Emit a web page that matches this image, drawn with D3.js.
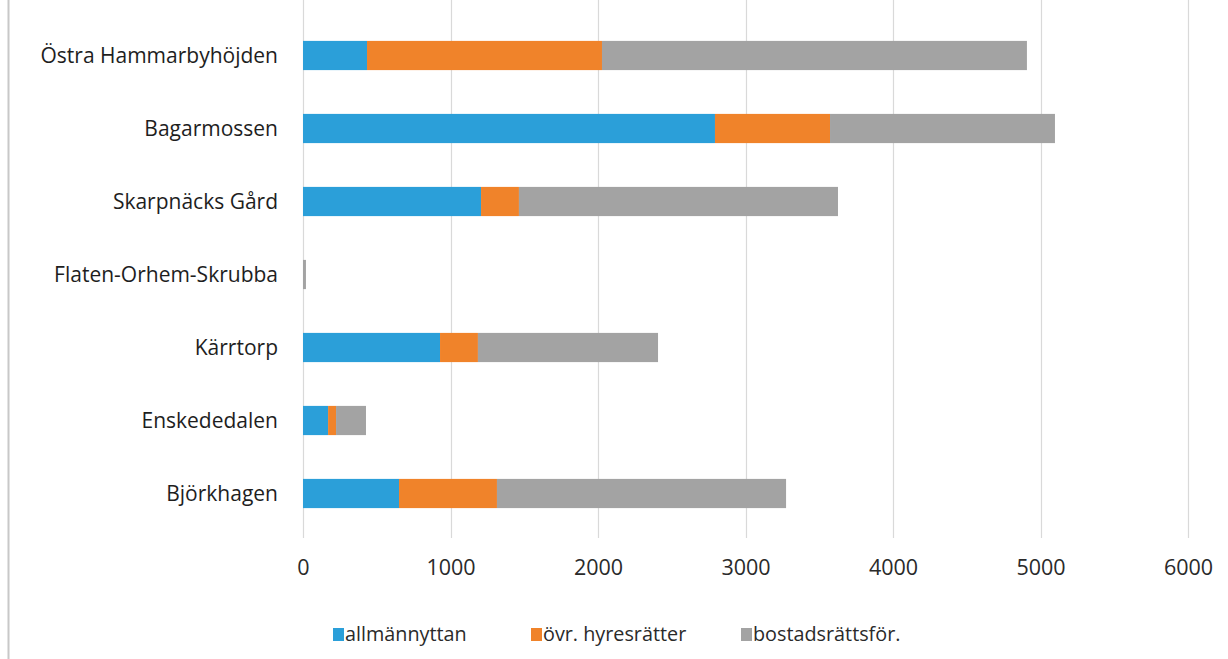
<!DOCTYPE html>
<html><head><meta charset="utf-8">
<script src="https://cdn.jsdelivr.net/npm/d3@7"></script>
<style>body{margin:0;background:#fff}svg{display:block}</style>
</head><body>
<svg id="c" width="1228" height="659"></svg>
<script>
const categories = ["Östra Hammarbyhöjden","Bagarmossen","Skarpnäcks Gård","Flaten-Orhem-Skrubba","Kärrtorp","Enskededalen","Björkhagen"];
const seriesNames = ["allmännyttan","övr. hyresrätter","bostadsrättsför."];
const allmannyttan = [434, 2793, 1207, 0, 929, 170, 651];
const ovrHyresratter = [1593, 780, 257, 0, 257, 54, 664];
const bostadsratt = [2881, 1525, 2163, 20, 1221, 203, 1960];
const xTicks = [0,1000,2000,3000,4000,5000,6000];
const colors = ["#2b9fd9","#f0832a","#a3a3a3"];

const FONT = "'Open Sans', sans-serif";
const svg = d3.select("#c");
const mLeft = 303, mRight = 1188, mTop = 19, mBottom = 530;
const x = d3.scaleLinear().domain([0,6000]).range([mLeft,mRight]);
const y = d3.scaleBand().domain(categories).range([mTop,mBottom]).paddingInner(0.6).paddingOuter(0.3);

// frame line on left
svg.append("line").attr("x1",8.5).attr("x2",8.5).attr("y1",0).attr("y2",659).attr("stroke","#c8c8c8").attr("stroke-width",2);

// grid
svg.append("g").selectAll("line").data(xTicks).join("line")
  .attr("x1",d=>Math.round(x(d))+0.5).attr("x2",d=>Math.round(x(d))+0.5)
  .attr("y1",0).attr("y2",mBottom+8).attr("stroke","#d9d9d9").attr("stroke-width",1.2);

const data = categories.map((c,i)=>({cat:c, v:[allmannyttan[i],ovrHyresratter[i],bostadsratt[i]]}));
const stack = d3.stack().keys([0,1,2]).value((d,k)=>d.v[k]);
const layers = stack(data);
svg.append("g").selectAll("g").data(layers).join("g").attr("fill",(d,i)=>colors[i])
  .selectAll("rect").data(d=>d).join("rect")
  .attr("x",d=>x(d[0])).attr("width",d=>Math.max(0,x(d[1])-x(d[0])))
  .attr("y",d=>y(d.data.cat)).attr("height",y.bandwidth());

// category labels
svg.append("g").selectAll("text").data(categories).join("text")
  .attr("x",278).attr("y",d=>y(d)+y.bandwidth()/2).attr("dy","0.35em")
  .attr("text-anchor","end").attr("font-family",FONT).attr("font-size",21)
  .attr("fill","#1e1e1e").text(d=>d);

// x axis labels
const xAxis = d3.axisBottom(x).tickValues(xTicks).tickSize(0).tickPadding(0).tickFormat(d3.format("d"));
const ax = svg.append("g").attr("transform",`translate(0,${567})`).call(xAxis);
ax.select(".domain").remove();
ax.selectAll("text").attr("dy","0.35em").attr("font-family",FONT).attr("font-size",21.5).attr("fill","#2a2a2a");

// legend
const legX = [333, 531, 741];
const lg = svg.append("g").selectAll("g").data(seriesNames).join("g")
  .attr("transform",(d,i)=>`translate(${legX[i]},634)`);
lg.append("rect").attr("x",0).attr("y",-6).attr("width",11).attr("height",13).attr("fill",(d,i)=>colors[i]);
lg.append("text").attr("x",12).attr("dy","0.35em").attr("font-family",FONT)
  .attr("font-size",19.8).attr("fill","#2a2a2a").text(d=>d);
</script>
</body></html>
